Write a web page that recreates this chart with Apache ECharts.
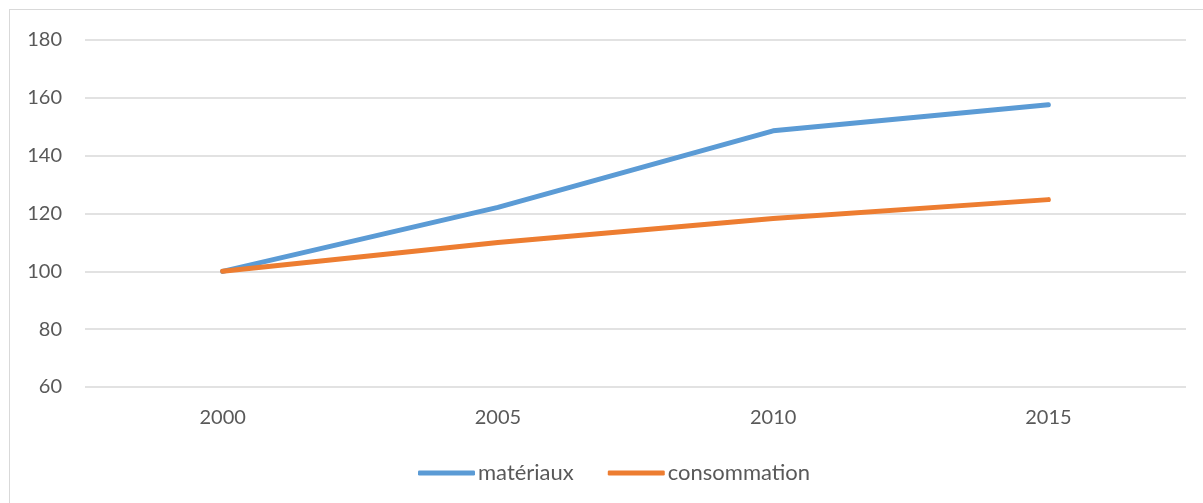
<!DOCTYPE html>
<html>
<head>
<meta charset="utf-8">
<script src="https://cdn.jsdelivr.net/npm/echarts@6/dist/echarts.min.js"></script>
<style>
  html, body { margin: 0; padding: 0; background: #fff; overflow: hidden; }
  #frame {
    position: absolute;
    left: 9px;
    top: 9px;
    width: 1220px;
    height: 520px;
    border: 1px solid #d9d9d9;
  }
  #chart { position: absolute; left: 0; top: 0; width: 1203px; height: 503px; }
</style>
</head>
<body>
<div id="frame"></div>
<div id="chart"></div>
<script>
  var years = ['2000', '2005', '2010', '2015'];
  var materiaux = [100, 122.1, 148.6, 157.6];
  var consommation = [100, 110, 118.3, 124.8];

  var chart = echarts.init(document.getElementById('chart'));
  var font = 'Lato, "Open Sans", sans-serif';
  chart.setOption({
    animation: false,
    grid: {
      left: 85,
      right: 17,
      top: 40,
      bottom: 116
    },
    legend: {
      top: 457,
      left: 413,
      icon: 'roundRect',
      itemWidth: 57,
      itemHeight: 5,
      itemGap: 34,
      textStyle: {
        fontFamily: font,
        fontSize: 22,
        color: '#595959',
        padding: [0, 0, 0, -2]
      },
      data: ['matériaux', 'consommation']
    },
    xAxis: {
      type: 'category',
      data: years,
      boundaryGap: true,
      axisLine: { show: false },
      axisTick: { show: false },
      axisLabel: {
        margin: 21,
        fontFamily: font,
        fontSize: 20,
        color: '#595959'
      }
    },
    yAxis: {
      type: 'value',
      min: 60,
      max: 180,
      interval: 20,
      axisLine: { show: false },
      axisTick: { show: false },
      axisLabel: {
        margin: 23,
        fontFamily: font,
        fontSize: 20,
        color: '#595959'
      },
      splitLine: {
        lineStyle: { color: '#d9d9d9', width: 1.5 }
      }
    },
    series: [
      {
        name: 'matériaux',
        type: 'line',
        data: materiaux,
        showSymbol: false,
        symbol: 'none',
        itemStyle: { color: '#5b9bd5' },
        lineStyle: { color: '#5b9bd5', width: 5, cap: 'round', join: 'round' }
      },
      {
        name: 'consommation',
        type: 'line',
        data: consommation,
        showSymbol: false,
        symbol: 'none',
        itemStyle: { color: '#ed7d31' },
        lineStyle: { color: '#ed7d31', width: 5, cap: 'round', join: 'round' }
      }
    ]
  });
</script>
</body>
</html>
